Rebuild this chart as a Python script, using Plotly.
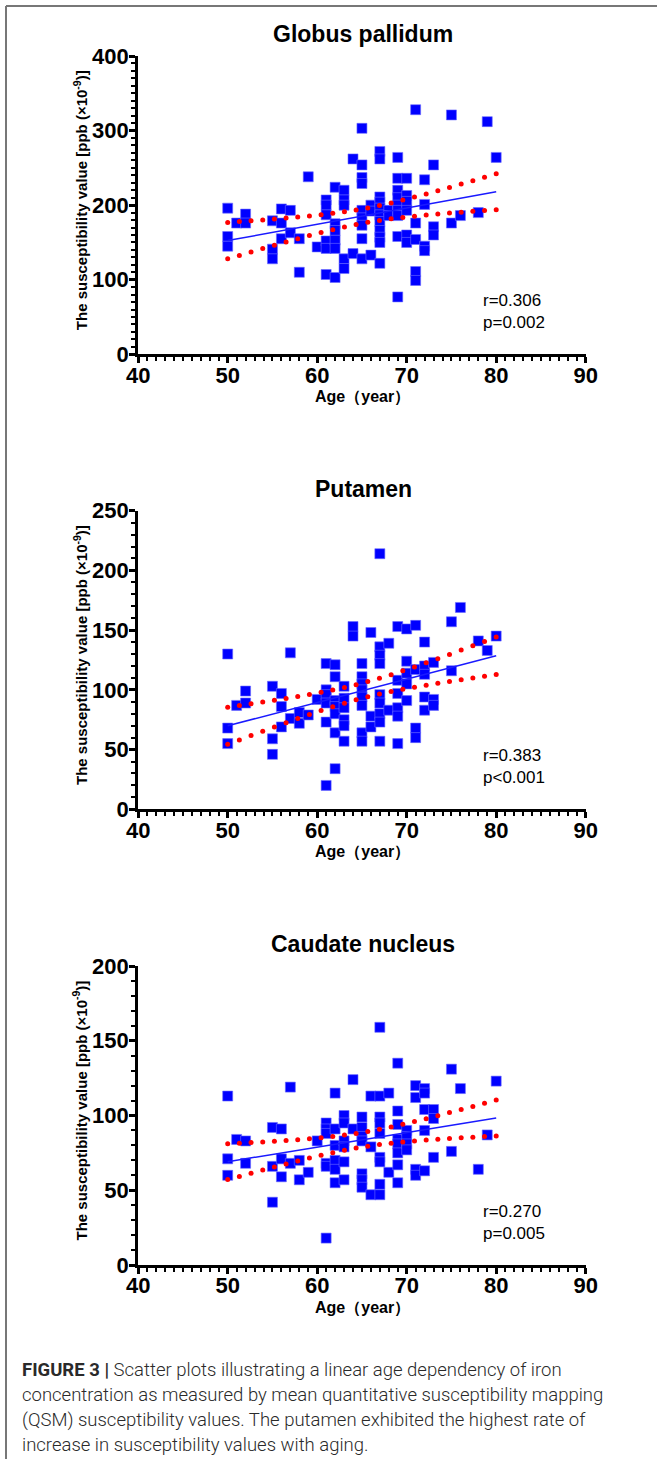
import numpy as np
import plotly.graph_objects as go

W, H = 657, 1459

# ---------------- data ----------------
gp_age = [50, 50, 50, 51, 52, 52, 55, 55, 55, 56, 56, 56, 57, 57, 58, 58, 59, 60,
          61, 61, 61, 61, 61, 61, 62, 62, 62, 62, 62, 62, 63, 63, 63, 63, 63, 64, 64,
          65, 65, 65, 65, 65, 65, 65, 65, 65, 66, 66, 66,
          67, 67, 67, 67, 67, 67, 67, 67, 67, 67, 67, 68, 68,
          69, 69, 69, 69, 69, 69, 69, 69, 69, 70, 70, 70, 70, 70, 70,
          71, 71, 71, 71, 71, 72, 72, 72, 72, 73, 73, 73, 75, 75, 76, 78, 79, 80]
gp_val = [196, 158, 145, 176, 188, 176, 179, 141, 128, 195, 176, 155, 193, 163, 155, 110, 238, 144,
          207, 200, 187, 152, 142, 107, 224, 175, 166, 153, 142, 103, 220, 207, 200, 128, 115, 262, 135,
          303, 254, 237, 229, 193, 183, 173, 155, 128, 200, 192, 133,
          272, 262, 211, 204, 196, 187, 178, 166, 157, 150, 122, 193, 186,
          264, 236, 220, 210, 200, 193, 186, 158, 77, 236, 213, 205, 193, 160, 150,
          328, 176, 154, 111, 99, 234, 201, 145, 139, 254, 171, 160, 321, 176, 186, 190, 312, 264]

pu_age = [50, 50, 50, 51, 52, 52, 55, 55, 55, 56, 56, 56, 57, 57, 58, 58, 59, 60,
          61, 61, 61, 61, 61, 61, 62, 62, 62, 62, 62, 62, 62, 63, 63, 63, 63, 63, 63, 64, 64,
          65, 65, 65, 65, 65, 65, 65, 65, 66, 66, 66,
          67, 67, 67, 67, 67, 67, 67, 67, 67, 68, 68,
          69, 69, 69, 69, 69, 69, 70, 70, 70, 70, 70,
          71, 71, 71, 71, 72, 72, 72, 72, 72, 73, 73, 73, 75, 75, 76, 78, 79, 80]
pu_val = [130, 68, 55, 87, 99, 89, 103, 59, 46, 97, 86, 69, 131, 76, 81, 72, 79, 92,
          122, 100, 96, 89, 73, 20, 121, 111, 91, 86, 80, 64, 34, 103, 93, 85, 75, 70, 57, 153, 145,
          122, 111, 105, 100, 94, 87, 64, 57, 148, 78, 69,
          214, 136, 129, 122, 96, 89, 80, 73, 57, 139, 83,
          153, 108, 97, 85, 78, 55, 151, 124, 114, 105, 91,
          154, 117, 68, 60, 140, 120, 113, 94, 83, 123, 92, 87, 157, 116, 169, 141, 133, 145]

cn_age = [50, 50, 50, 51, 52, 52, 55, 55, 55, 56, 56, 56, 57, 57, 58, 58, 59, 60,
          61, 61, 61, 61, 61, 61, 62, 62, 62, 62, 62, 62, 63, 63, 63, 63, 63, 63, 64, 64,
          65, 65, 65, 65, 65, 65, 65, 66, 66, 66,
          67, 67, 67, 67, 67, 67, 67, 67, 67, 68, 68,
          69, 69, 69, 69, 69, 69, 69, 69, 70, 70, 70, 70,
          71, 71, 71, 71, 72, 72, 72, 72, 72, 73, 73, 73, 75, 75, 76, 78, 79, 80]
cn_val = [113, 71, 60, 84, 83, 68, 92, 66, 42, 91, 71, 59, 119, 68, 70, 57, 62, 83,
          95, 91, 88, 68, 66, 18, 115, 91, 80, 70, 64, 55, 100, 95, 83, 79, 69, 57, 124, 91,
          99, 92, 86, 83, 61, 57, 52, 113, 79, 47,
          159, 113, 99, 95, 88, 72, 69, 54, 47, 115, 62,
          135, 103, 94, 84, 81, 75, 67, 55, 90, 86, 81, 77,
          120, 112, 64, 60, 118, 115, 104, 90, 63, 104, 98, 72, 131, 76, 118, 64, 87, 123]

titles = ["Globus pallidum", "Putamen", "Caudate nucleus"]
stats = [("r=0.306", "p=0.002"), ("r=0.383", "p<0.001"), ("r=0.270", "p=0.005")]
y_max = [400, 250, 200]
y_dtick = [100, 50, 50]
x_ticks = [40, 50, 60, 70, 80, 90]

caption_lines = [
    "<b>FIGURE 3 |</b> Scatter plots illustrating a linear age dependency of iron",
    "concentration as measured by mean quantitative susceptibility mapping",
    "(QSM) susceptibility values. The putamen exhibited the highest rate of",
    "increase in susceptibility values with aging.",
]

# ---------------- layout helpers (pixel geometry) ----------------
def px(x):
    return x / W

def py(y):
    return 1 - y / H

X_LEFT, X_RIGHT = 138.2, 585.7
panels_px = [(56.0, 354.3), (510.7, 809.3), (966.0, 1265.0)]  # (top, bottom)

FONT = "Liberation Sans, Arial, sans-serif"

fig = go.Figure()
datasets = [(gp_age, gp_val), (pu_age, pu_val), (cn_age, cn_val)]

for i, (ages, vals) in enumerate(datasets):
    xa = "x" if i == 0 else f"x{i+1}"
    ya = "y" if i == 0 else f"y{i+1}"
    x = np.array(ages, float)
    y = np.array(vals, float)
    n = len(x)
    slope, intercept = np.polyfit(x, y, 1)
    xs = np.linspace(x.min(), x.max(), 24)
    fit = intercept + slope * xs
    resid = y - (intercept + slope * x)
    s = np.sqrt(np.sum(resid ** 2) / (n - 2))
    sxx = np.sum((x - x.mean()) ** 2)
    half = 1.986 * s * np.sqrt(1 / n + (xs - x.mean()) ** 2 / sxx)

    fig.add_trace(go.Scatter(x=x, y=y, mode="markers", xaxis=xa, yaxis=ya,
                             marker=dict(symbol="square", size=10, color="#0000ff",
                                         line=dict(width=0.6, color="#6b6bff")),
                             showlegend=False))
    fig.add_trace(go.Scatter(x=[xs[0], xs[-1]], y=[fit[0], fit[-1]], mode="lines",
                             xaxis=xa, yaxis=ya, line=dict(color="#1a1aff", width=1.5),
                             showlegend=False))
    for band in (fit + half, fit - half):
        fig.add_trace(go.Scatter(x=xs, y=band, mode="markers", xaxis=xa, yaxis=ya,
                                 marker=dict(symbol="circle", size=5, color="#ff0000"),
                                 showlegend=False))

    top, bot = panels_px[i]
    axis_common = dict(showline=True, linewidth=3, linecolor="black", ticks="outside",
                       ticklen=6, tickwidth=2.5, tickcolor="black", showgrid=False,
                       zeroline=False, automargin=False,
                       tickfont=dict(family=FONT, size=22, color="black", weight="bold"))
    xaxis = dict(axis_common, domain=[px(X_LEFT), px(X_RIGHT)], range=[40, 90],
                 tickvals=x_ticks, anchor=ya, ticklabelstandoff=-7,
                 minor=dict(ticks="outside", dtick=1, ticklen=4, tickwidth=1.5, tickcolor="black"))
    yaxis = dict(axis_common, domain=[py(bot), py(top)], range=[0, y_max[i]],
                 dtick=y_dtick[i], anchor=xa, ticklabelstandoff=-4,
                 minor=dict(ticks="outside", dtick=10, ticklen=4, tickwidth=1.5, tickcolor="black"))
    fig.update_layout(**{("xaxis" if i == 0 else f"xaxis{i+1}"): xaxis,
                         ("yaxis" if i == 0 else f"yaxis{i+1}"): yaxis})

    # panel title
    fig.add_annotation(x=px(363), y=py(top - 22), xref="paper", yref="paper",
                       text=titles[i], showarrow=False, xanchor="center", yanchor="middle",
                       font=dict(family=FONT, size=23, color="black", weight="bold"))
    # x-axis title
    fig.add_annotation(x=px(362), y=py(bot + 43), xref="paper", yref="paper",
                       text="Age（year）", showarrow=False, xanchor="center", yanchor="middle",
                       font=dict(family=FONT, size=16, color="black", weight="bold"))
    # y-axis title
    fig.add_annotation(x=px(80), y=py((top + bot) / 2 - 5), xref="paper", yref="paper",
                       text="The susceptibility value [ppb (×10<sup>-9</sup>)]", textangle=-90,
                       showarrow=False, xanchor="center", yanchor="middle",
                       font=dict(family=FONT, size=15, color="black", weight="bold"))
    # statistics
    for k, t in enumerate(stats[i]):
        fig.add_annotation(x=px(481), y=py(bot - 54 + 22 * k), xref="paper", yref="paper",
                           text=t, showarrow=False, xanchor="left", yanchor="middle",
                           font=dict(family=FONT, size=17, color="black"))

# caption
for k, line in enumerate(caption_lines):
    fig.add_annotation(x=px(20), y=py(1370 + 25 * k), xref="paper", yref="paper",
                       text=line, showarrow=False, xanchor="left", yanchor="middle",
                       font=dict(family="Roboto, sans-serif", size=18.5, color="#2a2a2a", weight=300))

# frame lines (top and left)
fig.add_shape(type="line", xref="paper", yref="paper", x0=px(6), x1=1, y0=py(6), y1=py(6),
              line=dict(color="#777777", width=2))
fig.add_shape(type="line", xref="paper", yref="paper", x0=px(6), x1=px(6), y0=py(6), y1=0,
              line=dict(color="#777777", width=2))

fig.update_layout(width=W, height=H, margin=dict(l=0, r=0, t=0, b=0, pad=0),
                  paper_bgcolor="white", plot_bgcolor="white", showlegend=False)

fig.write_html("out.html", config={"displayModeBar": False},
               post_script="document.body.style.margin='0';")
